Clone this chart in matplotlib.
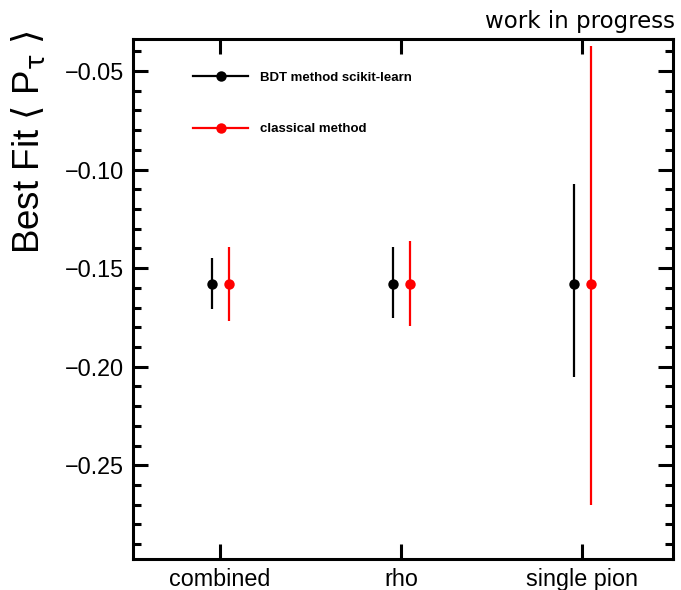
import matplotlib
matplotlib.use("Agg")
import matplotlib.pyplot as plt
from matplotlib.ticker import MultipleLocator, FuncFormatter, FixedLocator
from matplotlib.lines import Line2D

categories = ["combined", "rho", "single pion"]
bdt_values = [-0.158, -0.158, -0.158]
bdt_err_low = [0.0125, 0.0172, 0.0471]
bdt_err_high = [0.0129, 0.0185, 0.0506]
cls_values = [-0.158, -0.158, -0.158]
cls_err_low = [0.0189, 0.0214, 0.1122]
cls_err_high = [0.0185, 0.0217, 0.1207]
series_labels = ["BDT method scikit-learn", "classical method"]
series_colors = ["black", "red"]

fig = plt.figure(figsize=(6.81, 5.90), dpi=100)
ax = fig.add_axes([133/681, 1-559/590, 540/681, 520/590])

xpos = list(range(len(categories)))
offs = [-0.045, 0.05]
series = [(bdt_values, bdt_err_low, bdt_err_high), (cls_values, cls_err_low, cls_err_high)]
for (vals, lo, hi), col, off in zip(series, series_colors, offs):
    ax.errorbar([x + off for x in xpos], vals, yerr=[lo, hi], fmt='o', color=col,
                ecolor=col, elinewidth=1.6, capsize=3, capthick=1.6, markersize=7.5,
                markeredgewidth=0)

ax.set_xlim(-0.48, 2.5)
ax.set_ylim(-0.2975, -0.0338)
ax.xaxis.set_major_locator(FixedLocator(xpos))
ax.set_xticklabels(categories)
ax.yaxis.set_major_locator(MultipleLocator(0.05))
ax.yaxis.set_minor_locator(MultipleLocator(0.01))
ax.yaxis.set_major_formatter(FuncFormatter(lambda v, p: f"{v:.2f}".replace('-', '\u2212')))

for s in ax.spines.values():
    s.set_linewidth(2.2)
ax.tick_params(axis='both', which='major', direction='in', length=10.8, width=2.2,
               top=True, right=True, labelsize=16.8, pad=6.5)
ax.tick_params(axis='y', which='minor', direction='in', length=6, width=2.2, right=True)
for lab in ax.get_xticklabels() + ax.get_yticklabels():
    lab.set_family('Liberation Sans')

handles = [Line2D([], [], color=c, marker='o', lw=1.6, markersize=7.5, markeredgewidth=0)
           for c in series_colors]
leg = ax.legend(handles, series_labels, loc='upper left', bbox_to_anchor=(0.111, 0.937),
                frameon=False, borderpad=0, borderaxespad=0, handlelength=4.2,
                handletextpad=0.9, labelspacing=2.95,
                prop={'family': 'Liberation Sans', 'weight': 'bold', 'size': 9.5})

fig.text(29/681, 1-30/590, r"Best Fit $\langle$ P$_{\mathrm{\tau}}$ $\rangle$", rotation=90,
         ha='center', va='top', fontsize=26.5, family='Liberation Sans')
fig.text(675/681, 1-28/590, "work in progress", ha='right', va='baseline',
         fontsize=16.5, family='DejaVu Sans')

fig.savefig("out.png", dpi=100)
